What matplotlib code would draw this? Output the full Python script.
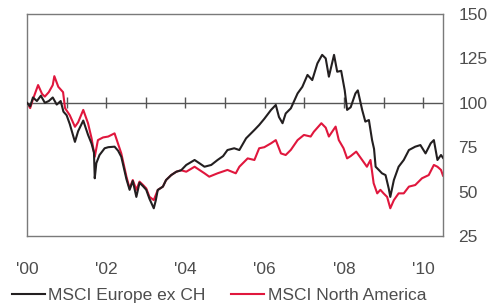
import matplotlib
matplotlib.use("Agg")
import matplotlib.pyplot as plt

# Decimal years and index values (Jan 2000 = 100)
t_europe = [2000.00, 2000.08, 2000.15, 2000.25, 2000.35, 2000.45, 2000.55, 2000.65, 2000.75, 2000.85,
            2000.92, 2001.00, 2001.08, 2001.21, 2001.29, 2001.42, 2001.54, 2001.63, 2001.69, 2001.71,
            2001.75, 2001.83, 2001.96, 2002.05, 2002.21, 2002.30, 2002.38, 2002.51, 2002.59, 2002.67,
            2002.76, 2002.84, 2002.93, 2003.01, 2003.09, 2003.20, 2003.25, 2003.30, 2003.43, 2003.51,
            2003.64, 2003.77, 2003.89, 2004.02, 2004.23, 2004.35, 2004.48, 2004.65, 2004.81, 2004.95,
            2005.06, 2005.23, 2005.36, 2005.53, 2005.74, 2005.86, 2005.99, 2006.16, 2006.28, 2006.36,
            2006.45, 2006.53, 2006.66, 2006.83, 2006.95, 2007.08, 2007.20, 2007.33, 2007.45, 2007.54,
            2007.62, 2007.75, 2007.83, 2007.93, 2008.02, 2008.08, 2008.17, 2008.29, 2008.35, 2008.46,
            2008.54, 2008.63, 2008.71, 2008.76, 2008.80, 2008.88, 2008.96, 2009.05, 2009.13, 2009.17,
            2009.26, 2009.38, 2009.51, 2009.64, 2009.80, 2009.93, 2010.06, 2010.19, 2010.27, 2010.36,
            2010.45, 2010.50]
v_europe = [100, 98, 103, 101, 104, 100, 101, 103, 99, 101,
            95, 93, 88, 78, 84, 90, 82, 77, 72, 57.5,
            66, 70.6, 74.4, 75, 75.3, 73, 69.6, 57, 51, 56,
            47, 55, 53, 51, 46, 40.6, 45, 50.9, 52.8, 56.5,
            59.3, 61.2, 62, 65, 67.8, 66, 64, 65, 67.8, 70,
            73.4, 74.4, 73.4, 80, 84.7, 87.5, 91, 96, 98.8, 92,
            88.5, 94, 96.9, 105.3, 109, 115.7, 112.8, 122.2, 127, 125,
            114.7, 127, 117.5, 118, 107, 96, 97.5, 105.3, 107, 96,
            89.4, 90.3, 79, 74, 64, 62.2, 60.3, 59.3, 51.8, 47,
            56.5, 64, 67.8, 73.4, 75.3, 76.2, 71.5, 77.2, 79, 67.8,
            70.6, 69]

t_america = [2000.00, 2000.08, 2000.15, 2000.28, 2000.38, 2000.45, 2000.55, 2000.65, 2000.69, 2000.79,
             2000.91, 2000.96, 2001.08, 2001.21, 2001.29, 2001.42, 2001.54, 2001.63, 2001.71, 2001.79,
             2001.92, 2002.05, 2002.21, 2002.38, 2002.51, 2002.59, 2002.67, 2002.76, 2002.84, 2002.93,
             2003.01, 2003.09, 2003.20, 2003.30, 2003.43, 2003.51, 2003.64, 2003.77, 2003.89, 2004.02,
             2004.23, 2004.48, 2004.60, 2004.81, 2005.06, 2005.27, 2005.36, 2005.57, 2005.74, 2005.86,
             2005.99, 2006.16, 2006.28, 2006.41, 2006.53, 2006.66, 2006.83, 2006.99, 2007.16, 2007.24,
             2007.43, 2007.54, 2007.62, 2007.79, 2007.87, 2007.99, 2008.08, 2008.17, 2008.31, 2008.46,
             2008.58, 2008.67, 2008.75, 2008.84, 2008.92, 2009.00, 2009.09, 2009.17, 2009.26, 2009.38,
             2009.51, 2009.64, 2009.80, 2009.97, 2010.14, 2010.27, 2010.36, 2010.45, 2010.50]
v_america = [100, 97, 102, 110, 105, 103.5, 106, 110, 115, 109,
             106, 97, 93, 86.5, 89, 96, 88.5, 80, 69.6, 79,
             80.5, 81, 82.8, 71.5, 58.4, 51.8, 56.5, 51, 55.6, 53.7,
             51.8, 47.1, 45.2, 50.9, 52.8, 56.5, 59.3, 61.2, 62, 61.2,
             64, 60.3, 58.4, 60.3, 62.2, 60.3, 64, 68.7, 67.8, 74.4,
             75, 77.2, 79, 71.5, 70.6, 73.5, 79, 81.9, 81, 83.7,
             88.5, 86, 81, 86.6, 79, 74.4, 68.7, 70, 72.5, 67.8,
             64, 67.8, 54.7, 49, 51, 49, 47, 40.6, 45.2, 49,
             49, 52.8, 53.7, 57.5, 59.3, 65, 64, 62.2, 59]

year_ticks = [2000, 2002, 2004, 2006, 2008, 2010]
year_labels = ["'00", "'02", "'04", "'06", "'08", "'10"]
minor_years = [2001, 2002, 2003, 2004, 2005, 2006, 2007, 2008, 2009, 2010]
y_ticks = [25, 50, 75, 100, 125, 150]
series_names = ["MSCI Europe ex CH", "MSCI North America"]

BLACK = "#231f20"
RED = "#e0173d"
TEXT = "#4d4d4d"
SPINE = "#7a7a7a"

plt.rcParams['font.family'] = ['Liberation Sans', 'DejaVu Sans']

fig = plt.figure(figsize=(5.01, 3.08), dpi=100)
ax = fig.add_axes([0.0539, 0.2338, 0.8303, 0.7207])

ax.axhline(100, color="#555555", lw=1.0, zorder=1)
ax.vlines(minor_years, 97, 103, color="#555555", lw=1.0, zorder=1)

ax.plot(t_europe, v_europe, color=BLACK, lw=1.5, label=series_names[0], zorder=3)
ax.plot(t_america, v_america, color=RED, lw=1.5, label=series_names[1], zorder=2)

ax.set_xlim(2000, 2010.5)
ax.set_ylim(25, 150)
ax.set_xticks(year_ticks)
ax.set_xticklabels(year_labels)
ax.set_yticks(y_ticks)
ax.yaxis.tick_right()
ax.tick_params(axis='y', length=0, pad=11, labelsize=12.5, labelcolor=TEXT)
ax.tick_params(axis='x', length=0, pad=19, labelsize=12.5, labelcolor=TEXT)

for s in ax.spines.values():
    s.set_color(SPINE)
    s.set_linewidth(1.0)

leg = fig.legend(loc='lower left', bbox_to_anchor=(-0.008, -0.035), ncol=2, frameon=False,
                 handlelength=1.9, handletextpad=0.2, columnspacing=1.5, fontsize=12.5)
for txt in leg.get_texts():
    txt.set_color(TEXT)

fig.savefig("out.png", dpi=100)
